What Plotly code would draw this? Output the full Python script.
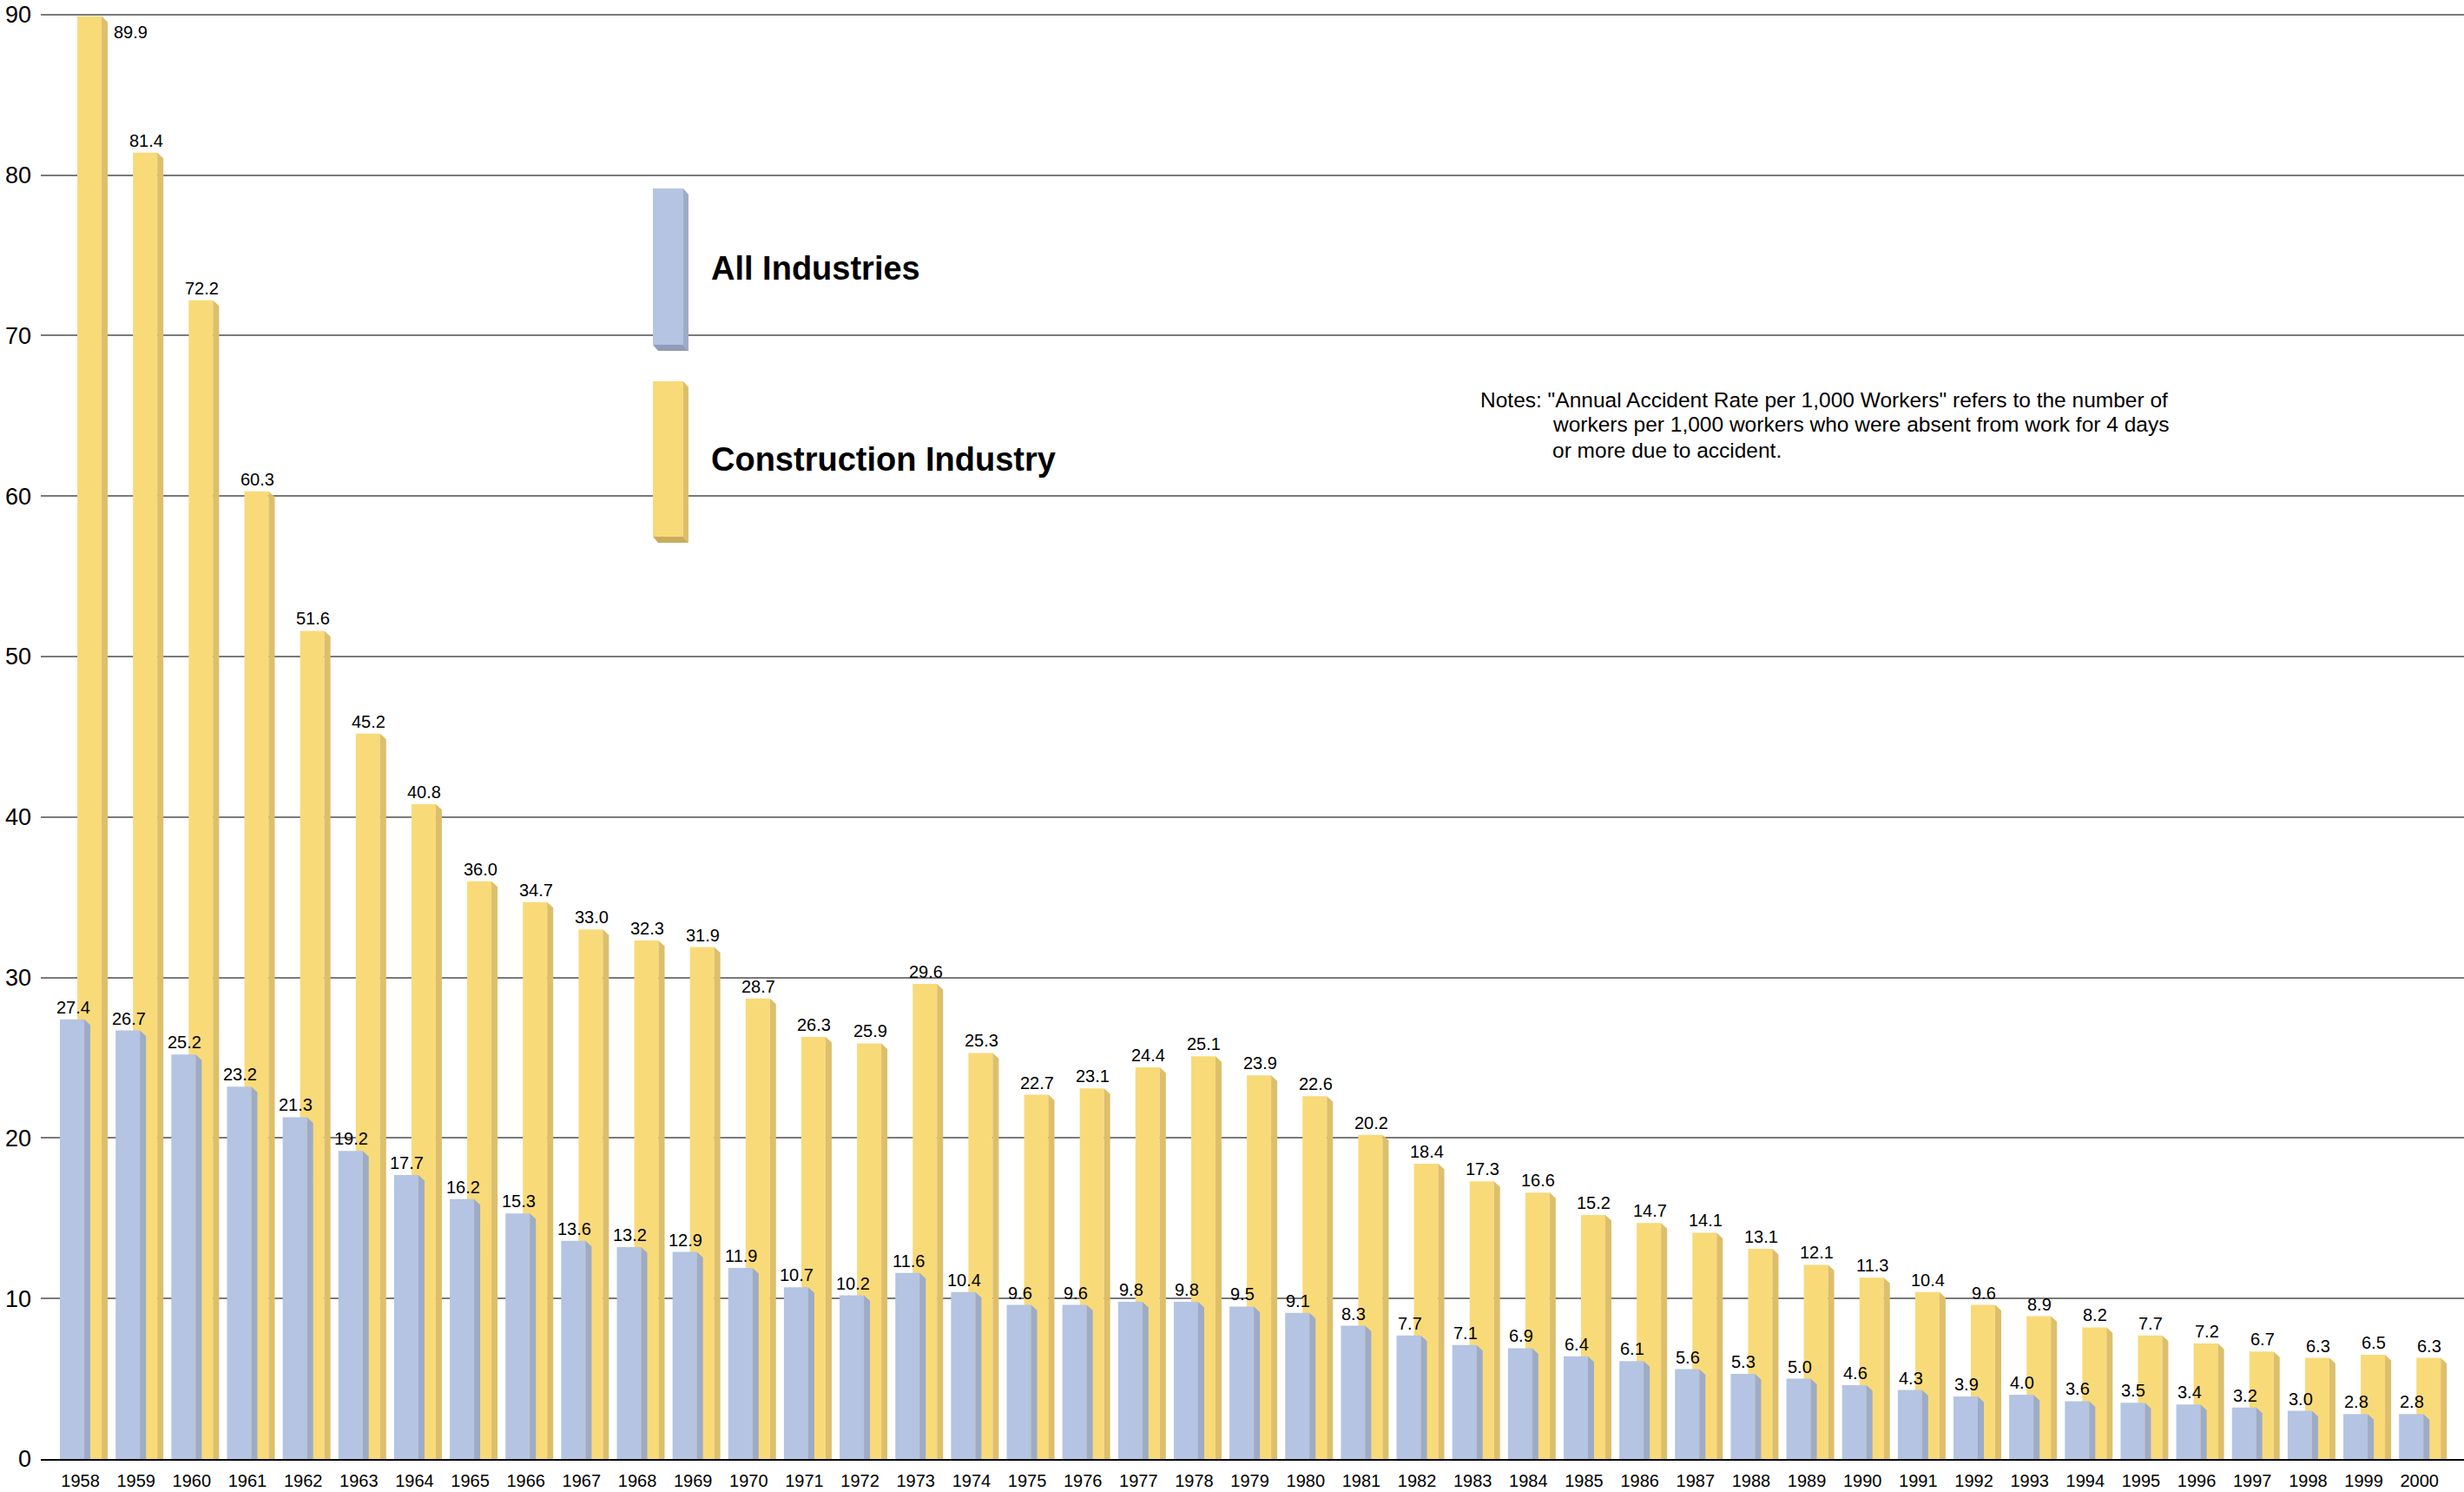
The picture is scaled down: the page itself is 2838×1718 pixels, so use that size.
import plotly.graph_objects as go

# Annual accident rate per 1,000 workers (absences of 4 days or more)
years = list(range(1958, 2001))
all_industries = [
    27.4, 26.7, 25.2, 23.2, 21.3, 19.2, 17.7, 16.2, 15.3, 13.6, 13.2, 12.9,
    11.9, 10.7, 10.2, 11.6, 10.4, 9.6, 9.6, 9.8, 9.8, 9.5,
    9.1, 8.3, 7.7, 7.1, 6.9, 6.4, 6.1, 5.6, 5.3, 5.0,
    4.6, 4.3, 3.9, 4.0, 3.6, 3.5, 3.4, 3.2, 3.0, 2.8, 2.8,
]
construction = [
    89.9, 81.4, 72.2, 60.3, 51.6, 45.2, 40.8, 36.0, 34.7, 33.0, 32.3, 31.9,
    28.7, 26.3, 25.9, 29.6, 25.3, 22.7, 23.1, 24.4, 25.1, 23.9,
    22.6, 20.2, 18.4, 17.3, 16.6, 15.2, 14.7, 14.1, 13.1, 12.1,
    11.3, 10.4, 9.6, 8.9, 8.2, 7.7, 7.2, 6.7, 6.3, 6.5, 6.3,
]
series_names = ["All Industries", "Construction Industry"]
y_ticks = list(range(0, 100, 10))
notes_lines = [
    'Notes: "Annual Accident Rate per 1,000 Workers" refers to the number of',
    "workers per 1,000 workers who were absent from work for 4 days",
    "or more due to accident.",
]

# ---- geometry / style ----
W, H = 2838, 1718
M_L, M_R, M_T, M_B = 47, 0, 8, 38
X_RANGE = [1957.29, 2000.80]
Y_RANGE = [0, 90.48]
plot_w = W - M_L - M_R
plot_h = H - M_T - M_B
px_x = plot_w / (X_RANGE[1] - X_RANGE[0])   # pixels per year
px_y = plot_h / (Y_RANGE[1] - Y_RANGE[0])   # pixels per unit

FONT = "Liberation Sans, Arial, sans-serif"
BAR_W = 28 / px_x          # front face width
DEPTH_X = 7 / px_x         # side face width
DEPTH_Y = 6.5 / px_y       # slant of the side face top
OFF_BLUE = -23.5 / px_x    # left edge of the front face, relative to the year
OFF_YEL = -3.5 / px_x

BLUE = dict(front="#b4c4e2", side="#9eabc7", bottom="#919cb8")
YEL = dict(front="#f9da79", side="#ddbf6b", bottom="#c9ad5f")


def side_polygon(xs, vals, off):
    px, py = [], []
    for x, v in zip(xs, vals):
        x0 = x + off + BAR_W
        px += [x0, x0 + DEPTH_X, x0 + DEPTH_X, x0, x0, None]
        py += [v, v - DEPTH_Y, 0, 0, v, None]
    return px, py


fig = go.Figure()

# back row (construction) first, then the front row (all industries)
for vals, off, col, name in [
    (construction, OFF_YEL, YEL, series_names[1]),
    (all_industries, OFF_BLUE, BLUE, series_names[0]),
]:
    fig.add_trace(go.Bar(
        x=years, y=vals, width=BAR_W, offset=off, name=name,
        marker=dict(color=col["front"], line=dict(width=0)),
        hoverinfo="skip", showlegend=False,
    ))

for vals, off, col in [
    (construction, OFF_YEL, YEL),
    (all_industries, OFF_BLUE, BLUE),
]:
    sx, sy = side_polygon(years, vals, off)
    fig.add_trace(go.Scatter(
        x=sx, y=sy, mode="lines", fill="toself", fillcolor=col["side"],
        line=dict(width=0, color=col["side"]), hoverinfo="skip", showlegend=False,
    ))

# value labels
annotations = []
for vals, off in [(all_industries, OFF_BLUE), (construction, OFF_YEL)]:
    for x, v in zip(years, vals):
        if v + 30 / px_y > Y_RANGE[1]:
            # no room above: put the label beside the bar
            annotations.append(dict(
                x=x + off + BAR_W + DEPTH_X, y=v, xref="x", yref="y",
                text=f"{v:.1f}", showarrow=False, xanchor="left", yanchor="middle",
                xshift=5, yshift=-18, font=dict(family=FONT, size=20, color="black"),
            ))
        else:
            annotations.append(dict(
                x=x + off + BAR_W / 2, y=v, xref="x", yref="y",
                text=f"{v:.1f}", showarrow=False, xanchor="center", yanchor="bottom",
                xshift=1, yshift=1, font=dict(family=FONT, size=20, color="black"),
            ))


def paper_x(p):
    return (p - M_L) / plot_w


def paper_y(p):
    return (H - M_B - p) / plot_h


# legend: two small 3D swatches with bold captions
shapes = []
legend_items = [
    (BLUE, 217, 397, series_names[0], 309),
    (YEL, 439, 618, series_names[1], 529),
]
lx0, lx1, dx, dy = 752, 787, 6, 7
for col, top, bot, label, ty in legend_items:
    shapes.append(dict(type="rect", xref="paper", yref="paper",
                       x0=paper_x(lx0), x1=paper_x(lx1), y0=paper_y(bot), y1=paper_y(top),
                       fillcolor=col["front"], line=dict(width=0), layer="above"))
    side = (f"M{paper_x(lx1)},{paper_y(top)} L{paper_x(lx1 + dx)},{paper_y(top + dy)} "
            f"L{paper_x(lx1 + dx)},{paper_y(bot + dy)} L{paper_x(lx1)},{paper_y(bot)} Z")
    shapes.append(dict(type="path", xref="paper", yref="paper", path=side,
                       fillcolor=col["side"], line=dict(width=0), layer="above"))
    bottom = (f"M{paper_x(lx0)},{paper_y(bot)} L{paper_x(lx1)},{paper_y(bot)} "
              f"L{paper_x(lx1 + dx)},{paper_y(bot + dy)} L{paper_x(lx0 + dx)},{paper_y(bot + dy)} Z")
    shapes.append(dict(type="path", xref="paper", yref="paper", path=bottom,
                       fillcolor=col["bottom"], line=dict(width=0), layer="above"))
    annotations.append(dict(
        x=paper_x(817), y=paper_y(ty), xref="paper", yref="paper", text=f"<b>{label}</b>",
        showarrow=False, xanchor="left", yanchor="middle",
        font=dict(family=FONT, size=38, color="black"),
    ))

# notes block
for i, (line, lx) in enumerate(zip(notes_lines, [1703, 1786, 1786])):
    annotations.append(dict(
        x=paper_x(lx), y=paper_y(460 + i * 29), xref="paper", yref="paper", text=line,
        showarrow=False, xanchor="left", yanchor="middle",
        font=dict(family=FONT, size=24.5, color="black"),
    ))

fig.update_layout(
    width=W, height=H,
    margin=dict(l=M_L, r=M_R, t=M_T, b=M_B, pad=0),
    paper_bgcolor="white", plot_bgcolor="white",
    barmode="overlay", showlegend=False,
    annotations=annotations, shapes=shapes,
    font=dict(family=FONT, color="black"),
    xaxis=dict(
        range=X_RANGE, tickvals=years, ticktext=[str(y) for y in years],
        tickfont=dict(family=FONT, size=20, color="black"),
        showgrid=False, zeroline=False, showline=True, linecolor="black", linewidth=2,
        ticks="", ticklabelstandoff=6, fixedrange=True,
    ),
    yaxis=dict(
        range=Y_RANGE, tickvals=y_ticks,
        tickfont=dict(family=FONT, size=27, color="black"),
        showgrid=True, gridcolor="#7a7a7a", gridwidth=2, zeroline=False, showline=False,
        ticks="", ticklabelstandoff=10, fixedrange=True,
    ),
)

fig.write_html("out.html")
